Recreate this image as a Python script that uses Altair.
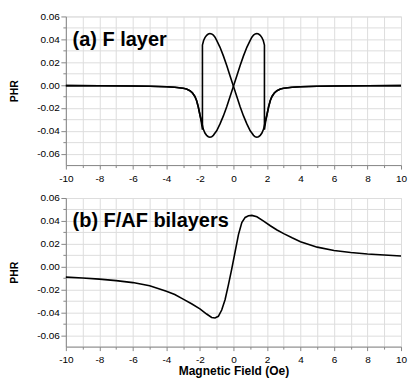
import altair as alt
import pandas as pd

# ---------------- data ----------------
# (a) F layer : field swept up (-10 -> +10)
x_up = [-10, -8, -6, -5, -4, -3.5, -3.0, -2.8, -2.6, -2.45, -2.3, -2.2, -2.1, -2.0, -1.92, -1.85,
        -1.85, -1.78, -1.7, -1.6, -1.5, -1.4, -1.3, -1.2, -1.1, -1.0, -0.8, -0.6, -0.4, -0.2, 0.0,
        0.2, 0.4, 0.6, 0.8, 1.0, 1.1, 1.2, 1.3, 1.4, 1.5, 1.6, 1.7, 1.8, 1.9, 2.0, 2.1, 2.2, 2.3,
        2.45, 2.6, 2.8, 3.0, 3.5, 4, 5, 6, 8, 10]
y_up = [-0.0005, -0.0006, -0.0008, -0.001, -0.0015, -0.002, -0.0028, -0.0035, -0.005, -0.0068,
        -0.010, -0.0135, -0.019, -0.026, -0.032, -0.039,
        0.035, 0.039, 0.0415, 0.0435, 0.0446, 0.0450, 0.0447, 0.0437, 0.0418, 0.0390, 0.0330,
        0.0255, 0.0170, 0.0080, -0.001,
        -0.010, -0.019, -0.027, -0.034, -0.040, -0.042, -0.044, -0.0453, -0.0456, -0.0452, -0.044,
        -0.042, -0.0385, -0.032, -0.026, -0.019, -0.0135, -0.010,
        -0.0068, -0.005, -0.0035, -0.0028, -0.002, -0.0015, -0.001, -0.0008, -0.0006, -0.0005]

# (a) F layer : field swept down (+10 -> -10)
x_down = [10, 8, 6, 5, 4, 3.5, 3.0, 2.8, 2.6, 2.45, 2.3, 2.2, 2.1, 2.0, 1.92, 1.85,
          1.85, 1.78, 1.7, 1.6, 1.5, 1.4, 1.3, 1.2, 1.1, 1.0, 0.8, 0.6, 0.4, 0.2, 0.0,
          -0.2, -0.4, -0.6, -0.8, -1.0, -1.1, -1.2, -1.3, -1.4, -1.5, -1.6, -1.7, -1.8, -1.9, -2.0,
          -2.1, -2.2, -2.3, -2.45, -2.6, -2.8, -3.0, -3.5, -4, -5, -6, -8, -10]
y_down = [-0.0005, -0.0006, -0.0008, -0.001, -0.0015, -0.002, -0.0028, -0.0035, -0.005, -0.0068,
          -0.010, -0.0135, -0.019, -0.026, -0.032, -0.039,
          0.035, 0.039, 0.0415, 0.0435, 0.0446, 0.0450, 0.0447, 0.0437, 0.0418, 0.0390, 0.0330,
          0.0255, 0.0170, 0.0080, -0.001,
          -0.010, -0.019, -0.027, -0.034, -0.040, -0.042, -0.044, -0.0453, -0.0456, -0.0452, -0.044,
          -0.042, -0.0385, -0.032, -0.026, -0.019, -0.0135, -0.010,
          -0.0068, -0.005, -0.0035, -0.0028, -0.002, -0.0015, -0.001, -0.0008, -0.0006, -0.0005]

# (b) F/AF bilayers
x_b = [-10, -9, -8, -7, -6, -5, -4, -3.5, -3, -2.5, -2, -1.6, -1.3, -1.1, -0.9, -0.7, -0.5, -0.3,
       -0.1, 0.1, 0.3, 0.5, 0.7, 0.9, 1.1, 1.4, 1.8, 2.2, 2.6, 3, 3.5, 4, 5, 6, 7, 8, 9, 10]
y_b = [-0.0092, -0.0100, -0.0110, -0.0123, -0.0140, -0.0168, -0.0215, -0.0245, -0.0285, -0.0325,
       -0.0370, -0.0415, -0.0445, -0.0450, -0.0435, -0.0380, -0.0290, -0.0160, -0.0020, 0.0130,
       0.0280, 0.0385, 0.0430, 0.0445, 0.0448, 0.0435, 0.0398, 0.0357, 0.0320, 0.0288, 0.0252,
       0.0218, 0.0170, 0.0141, 0.0123, 0.0110, 0.0101, 0.0093]

labels_a = ["(a) F layer"]
labels_b = ["(b) F/AF bilayers"]
label_x = [-9.6]
label_y = [0.0344]

y_ticks = [-0.06, -0.05, -0.04, -0.03, -0.02, -0.01, 0.0, 0.01, 0.02, 0.03, 0.04, 0.05, 0.06]
x_ticks = [-10, -9, -8, -7, -6, -5, -4, -3, -2, -1, 0, 1, 2, 3, 4, 5, 6, 7, 8, 9, 10]

# ---------------- build tables ----------------
df_a = pd.concat([
    pd.DataFrame({"x": x_up, "y": y_up, "branch": "up", "i": range(len(x_up))}),
    pd.DataFrame({"x": x_down, "y": y_down, "branch": "down", "i": range(len(x_down))}),
])
df_b = pd.DataFrame({"x": x_b, "y": y_b, "i": range(len(x_b))})
txt_a = pd.DataFrame({"x": label_x, "y": label_y, "t": labels_a})
txt_b = pd.DataFrame({"x": label_x, "y": label_y, "t": labels_b})

FONT = "Liberation Sans"
W, H = 336, 149

xscale = alt.Scale(domain=[-10, 10], nice=False, zero=False)
yscale = alt.Scale(domain=[-0.07, 0.06], nice=False, zero=False)


def x_axis(title):
    kw = dict(
        values=x_ticks,
        labelExpr="datum.value % 2 == 0 ? replace(format(datum.value, 'd'), '\u2212', '-') : ''",
        tickSize={"condition": {"test": "datum.value % 2 == 0", "value": 4}, "value": 2.5},
        labelOverlap=False,
        labelFlush=False,
        labelPadding=4,
        titlePadding=1,
        titleFontSize=12,
    )
    kw["title"] = title if title else None
    return alt.Axis(**kw)


y_axis = alt.Axis(
    values=y_ticks,
    title="PHR",
    labelExpr="round(datum.value*100) % 2 == 0 ? replace(format(datum.value, '.2f'), '\u2212', '-') : ''",
    tickSize={"condition": {"test": "round(datum.value*100) % 2 == 0", "value": 5}, "value": 3},
    labelOverlap=False,
    labelFlush=False,
    labelPadding=1.5,
    titlePadding=17,
    titleFontSize=10.5,
)


def panel(df, txt, detail, xtitle):
    ax = x_axis(xtitle)
    enc = dict(
        x=alt.X("x:Q", scale=xscale, axis=ax),
        y=alt.Y("y:Q", scale=yscale, axis=y_axis),
        order="i:Q",
    )
    if detail:
        enc["detail"] = "branch:N"
    line = alt.Chart(df).mark_line(color="black", strokeWidth=1.6).encode(**enc)
    text = alt.Chart(txt).mark_text(
        align="left", baseline="alphabetic", fontSize=20, fontWeight="bold", font=FONT, color="black"
    ).encode(
        x=alt.X("x:Q", scale=xscale, axis=ax),
        y=alt.Y("y:Q", scale=yscale, axis=y_axis),
        text="t:N",
    )
    return alt.layer(line, text).properties(width=W, height=H)


top = panel(df_a, txt_a, True, None)
bottom = panel(df_b, txt_b, False, "Magnetic Field (Oe)")

chart = (
    alt.vconcat(top, bottom, spacing=8)
    .properties(padding={"left": 1, "top": 2, "right": 0, "bottom": 0})
    .configure_view(stroke="#000000", strokeWidth=1.5)
    .configure_axis(
        domainColor="black", domainWidth=1.5, tickColor="black", tickWidth=1,
        labelFont=FONT, labelFontWeight="bold", labelFontSize=10, labelColor="black",
        titleFont=FONT, titleFontWeight="bold", titleColor="black", grid=False,
    )
    .configure(background="white")
)

chart.save("out.html", embed_options={"renderer": "svg", "actions": False})
